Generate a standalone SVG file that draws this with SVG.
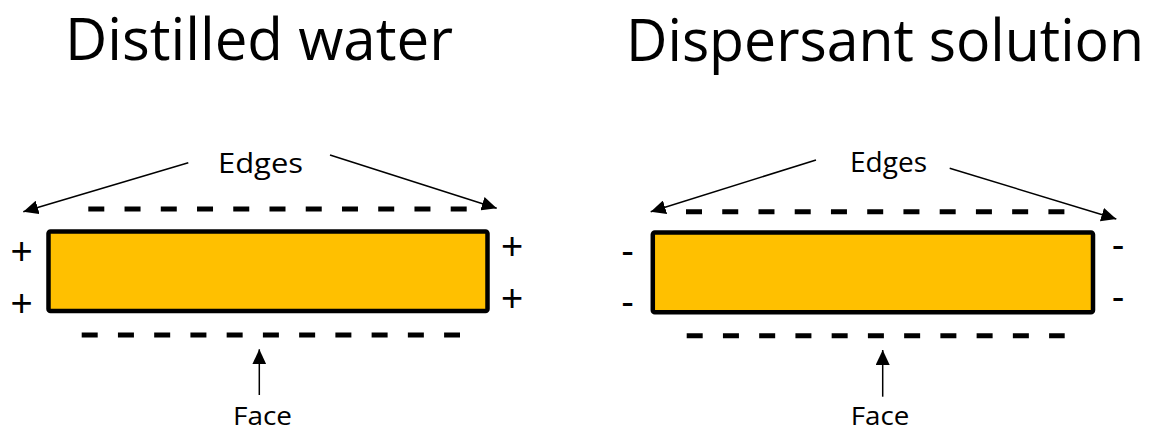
<svg xmlns="http://www.w3.org/2000/svg" width="1153" height="432" viewBox="0 0 1153 432">
<style>
.title{font-family:"Open Sans","Noto Sans",sans-serif;font-size:58px;fill:#000}
.lbl{font-family:"Open Sans","Noto Sans",sans-serif;font-size:28px;fill:#000}
.face{font-family:"Open Sans","Noto Sans",sans-serif;font-size:26px;fill:#000}
.sign{font-family:"Liberation Sans",Arial,sans-serif;font-size:38px;fill:#000;text-anchor:middle}
.plate{fill:#FFC000;stroke:#000;stroke-width:4.5}
.charge{stroke:#000;stroke-width:5;stroke-dasharray:16 20.24;fill:none}
.arrow{stroke:#000;stroke-width:1.5;fill:none;marker-end:url(#ah)}
</style>
<defs>
<marker id="ah" markerUnits="userSpaceOnUse" markerWidth="16" markerHeight="14" refX="15" refY="7" orient="auto">
<path d="M0,0 L15,7 L0,14 z" fill="#000"/>
</marker>
</defs>
<rect width="1153" height="432" fill="#fff"/>
<g id="title-left"><text class="title" x="65" y="60" textLength="388" lengthAdjust="spacingAndGlyphs">Distilled water</text></g>
<g id="title-right"><text class="title" x="626" y="61" textLength="518" lengthAdjust="spacingAndGlyphs">Dispersant solution</text></g>
<g id="plate-left">
<rect class="plate" x="48.5" y="231.5" width="439" height="79.5" rx="2"/>
<line class="charge" x1="88.3" y1="209" x2="466.7" y2="209"/>
<line class="charge" x1="81.7" y1="335" x2="460" y2="335"/>
<text class="sign" x="21.7" y="264.1">+</text>
<text class="sign" x="21.7" y="316.1">+</text>
<text class="sign" x="512" y="259.1">+</text>
<text class="sign" x="512" y="310.7">+</text>
</g>
<g id="label-edges-left"><text class="lbl" x="218" y="173" textLength="85" lengthAdjust="spacingAndGlyphs">Edges</text></g>
<g id="label-face-left"><text class="face" x="233" y="424.5" textLength="59" lengthAdjust="spacingAndGlyphs">Face</text></g>
<g id="plate-right">
<rect class="plate" x="652.8" y="232.5" width="440.2" height="79.7" rx="2"/>
<line class="charge" x1="686" y1="211.7" x2="1064.7" y2="211.7"/>
<line class="charge" x1="686.7" y1="335.7" x2="1064.7" y2="335.7"/>
<text class="sign" x="627.7" y="263.6">-</text>
<text class="sign" x="627.7" y="314.6">-</text>
<text class="sign" x="1118" y="258">-</text>
<text class="sign" x="1118" y="310.3">-</text>
</g>
<g id="label-edges-right"><text class="lbl" x="850" y="172" textLength="77" lengthAdjust="spacingAndGlyphs">Edges</text></g>
<g id="label-face-right"><text class="face" x="850.7" y="424.5" textLength="58.6" lengthAdjust="spacingAndGlyphs">Face</text></g>
<g id="connectors">
<line class="arrow" x1="188.3" y1="162.7" x2="23.3" y2="211.7"/>
<line class="arrow" x1="330" y1="155" x2="496.7" y2="208.3"/>
<line class="arrow" x1="259.3" y1="395" x2="259.3" y2="349.3"/>
<line class="arrow" x1="816" y1="160" x2="650.7" y2="211.7"/>
<line class="arrow" x1="949.7" y1="168.3" x2="1116.3" y2="219"/>
<line class="arrow" x1="882.7" y1="396.7" x2="882.7" y2="350"/>
</g>
</svg>
